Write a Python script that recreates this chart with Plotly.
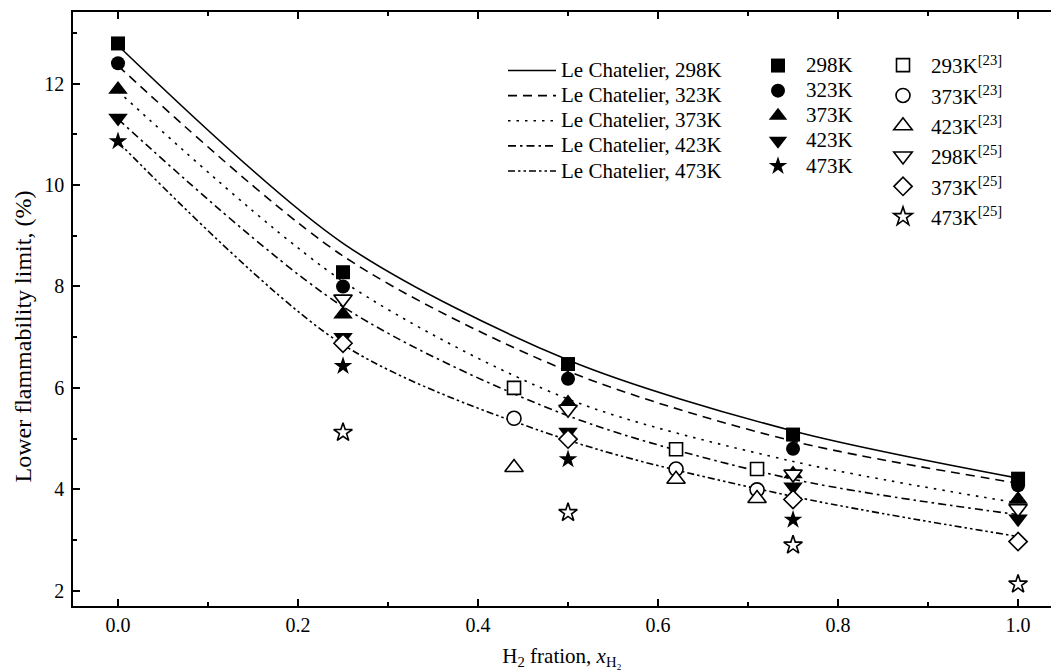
import plotly.graph_objects as go

# ---------------- data ----------------
# Le Chatelier curves, evaluated at the experimental H2 fractions
x_lc = [0.0, 0.25, 0.5, 0.75, 1.0]
lc_298 = [12.75, 8.85, 6.55, 5.15, 4.22]
lc_323 = [12.35, 8.60, 6.33, 4.95, 4.12]
lc_373 = [11.85, 8.10, 5.78, 4.55, 3.73]
lc_423 = [11.30, 7.60, 5.45, 4.20, 3.50]
lc_473 = [10.85, 6.85, 4.97, 3.86, 3.07]

# this work (filled symbols)
x_exp = [0.0, 0.25, 0.5, 0.75, 1.0]
exp_298 = [12.79, 8.28, 6.47, 5.08, 4.21]
exp_323 = [12.40, 8.00, 6.18, 4.80, 4.08]
exp_373 = [11.88, 7.45, 5.70, 4.30, 3.80]
exp_423 = [11.32, 7.00, 5.13, 4.05, 3.42]
x_exp_473 = [0.0, 0.25, 0.5, 0.75]
exp_473 = [10.86, 6.43, 4.59, 3.40]

# reference [23] (open symbols)
x_ref23 = [0.44, 0.62, 0.71]
ref23_293 = [6.00, 4.79, 4.40]
ref23_373 = [5.40, 4.40, 3.99]
ref23_423 = [4.43, 4.20, 3.82]

# reference [25] (open symbols)
x_ref25 = [0.25, 0.5, 0.75, 1.0]
ref25_298 = [7.75, 5.58, 4.30, 3.62]
ref25_373 = [6.88, 4.99, 3.80, 2.97]
ref25_473 = [5.12, 3.54, 2.90, 2.13]

x_ticks = [0.0, 0.2, 0.4, 0.6, 0.8, 1.0]
x_ticklabels = ["0.0", "0.2", "0.4", "0.6", "0.8", "1.0"]
y_ticks = [2, 4, 6, 8, 10, 12]
y_ticklabels = ["2", "4", "6", "8", "10", "12"]

x_title = "H<sub>2</sub> fration, <i>x</i><sub>H₂</sub>"
y_title = "Lower flammability limit, (%)"

# ---------------- figure ----------------
FONT = "Liberation Serif"
W, H = 1051, 670
fig = go.Figure()

def big(t):
    return '<span style="font-size:21px">' + t + "</span>"

lc_sets = [
    ("Le Chatelier, 298K", lc_298, "solid"),
    ("Le Chatelier, 323K", lc_323, "9px,6px"),
    ("Le Chatelier, 373K", lc_373, "2.5px,6px"),
    ("Le Chatelier, 423K", lc_423, "8px,4px,2.5px,4px"),
    ("Le Chatelier, 473K", lc_473, "7px,3px,2.5px,3px,2.5px,3px"),
]
for name, ys, dash in lc_sets:
    fig.add_trace(go.Scatter(
        x=x_lc, y=ys, mode="lines", name=big(name), legend="legend",
        line=dict(color="black", width=1.6, dash=dash, shape="spline", smoothing=0.85),
    ))

filled_sets = [
    ("298K", x_exp, exp_298, "square", 14),
    ("323K", x_exp, exp_323, "circle", 14),
    ("373K", x_exp, exp_373, "triangle-up", 17),
    ("423K", x_exp, exp_423, "triangle-down", 17),
    ("473K", x_exp_473, exp_473, "star", 14),
]
for name, xs, ys, sym, sz in filled_sets:
    fig.add_trace(go.Scatter(
        x=xs, y=ys, mode="markers", name=big(name), legend="legend2",
        marker=dict(symbol=sym, size=sz, color="black", line=dict(width=0)),
    ))

open_sets = [
    ("293K<sup>[23]</sup>", x_ref23, ref23_293, "square", 13),
    ("373K<sup>[23]</sup>", x_ref23, ref23_373, "circle", 14),
    ("423K<sup>[23]</sup>", x_ref23, ref23_423, "triangle-up", 16),
    ("298K<sup>[25]</sup>", x_ref25, ref25_298, "triangle-down", 16),
    ("373K<sup>[25]</sup>", x_ref25, ref25_373, "diamond", 14),
    ("473K<sup>[25]</sup>", x_ref25, ref25_473, "star", 14),
]
for name, xs, ys, sym, sz in open_sets:
    fig.add_trace(go.Scatter(
        x=xs, y=ys, mode="markers", name=name, legend="legend3",
        marker=dict(symbol=sym, size=sz, color="white", line=dict(color="black", width=1.6)),
    ))

def leg(xpx, ytop, fs, iw):
    return dict(
        x=xpx / W, y=1 - ytop / H, xref="container", yref="container",
        xanchor="left", yanchor="top", bgcolor="rgba(0,0,0,0)", borderwidth=0,
        font=dict(family=FONT, size=fs, color="black"), itemclick=False,
        itemwidth=iw,
    )

axis_common = dict(
    showline=True, linewidth=1.5, linecolor="black", showgrid=False, zeroline=False,
    ticks="inside", tickwidth=1.5, tickcolor="black", ticklen=7,
    tickfont=dict(family=FONT, size=20, color="black"),
)

fig.update_layout(
    width=W, height=H,
    margin=dict(l=73, r=0, t=12, b=64, autoexpand=False),
    paper_bgcolor="white", plot_bgcolor="white",
    font=dict(family=FONT, color="black"),
    legend=leg(503, 53, 17, 48),
    legend2=leg(750, 48, 17, 46),
    legend3=leg(875, 45, 21, 46),
    xaxis=dict(
        **axis_common, range=[-0.05, 1.0366], mirror="ticks",
        tickvals=x_ticks, ticktext=x_ticklabels,
        minor=dict(dtick=0.1, tick0=0, ticks="inside", ticklen=4, tickwidth=1.5,
                   tickcolor="black", showgrid=False),
        title=dict(text=x_title, font=dict(family=FONT, size=21, color="black")),
    ),
    yaxis=dict(
        **axis_common, range=[1.70, 13.41], mirror=False,
        tickvals=y_ticks, ticktext=y_ticklabels, ticklabelstandoff=3,
        minor=dict(dtick=1, tick0=0, ticks="inside", ticklen=4, tickwidth=1.5,
                   tickcolor="black", showgrid=False),
    ),
    annotations=[dict(
        text=y_title, textangle=-90, showarrow=False,
        xref="paper", yref="paper", x=(22.5 - 73) / 978, y=(606 - 337) / 594,
        xanchor="center", yanchor="middle",
        font=dict(family=FONT, size=24, color="black"),
    )],
)

fig.write_html("out.html", config={"displayModeBar": False},
               post_script="document.body.style.margin='0';")
